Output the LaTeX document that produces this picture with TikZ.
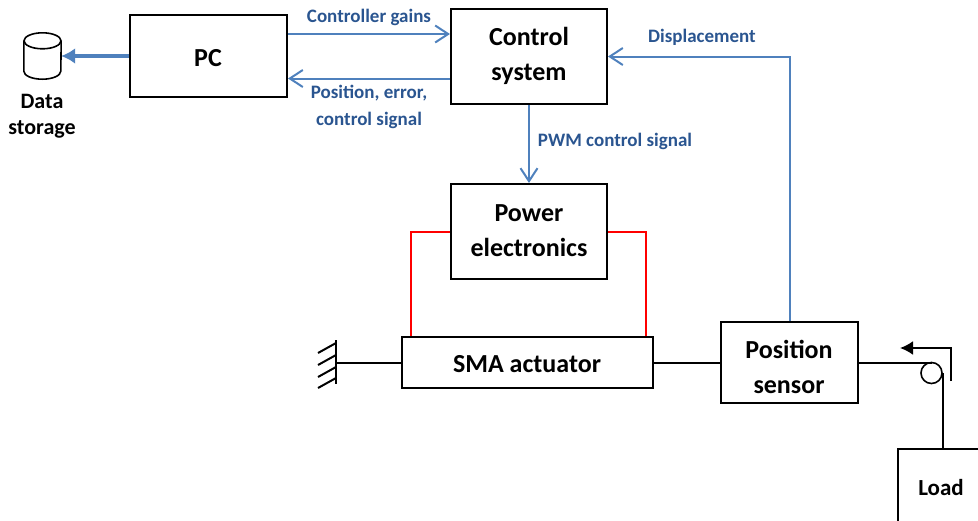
\documentclass[tikz,border=0pt]{standalone}
\usepackage{fontspec}
\setmainfont{Carlito}
\usetikzlibrary{arrows.meta}
\definecolor{sigline}{HTML}{4F81BD}
\definecolor{sigtext}{HTML}{2A5590}
\tikzset{block/.style = {shape=rectangle,draw=black,line width=2pt,inner sep=0pt}}
\tikzset{blocktext/.style = {font=\fontsize{26}{35}\selectfont\bfseries,align=center,inner sep=0pt}}
\tikzset{siglabel/.style = {text=sigtext,font=\fontsize{19}{27}\selectfont\bfseries,align=center,inner sep=0pt}}
\tikzset{sigedge/.style = {-{Straight Barb[length=13pt,width=17pt]},sigline,line width=2pt}}
\tikzset{wire/.style = {red,line width=2pt}}
\tikzset{rod/.style = {black,line width=2pt}}

\begin{document}
\begin{tikzpicture}[x=1pt,y=-1pt]
\useasboundingbox (0,0) rectangle (978,520);

\node[block,minimum width=157pt,minimum height=82pt] (pc) at (208.5,56) {};
\node[block,minimum width=156pt,minimum height=95pt] (control) at (529,56.5) {};
\node[block,minimum width=156pt,minimum height=95pt] (power) at (529,231.5) {};
\node[block,minimum width=251pt,minimum height=51pt] (sma) at (527.5,362.5) {};
\node[block,minimum width=137pt,minimum height=81pt] (sensor) at (789.5,362.5) {};
\node[block,minimum width=90pt,minimum height=80pt] (load) at (943,489) {};
\node[minimum width=37pt,minimum height=46pt,inner sep=0pt] (store) at (42.5,56) {};
\node[shape=circle,draw=black,line width=1.6pt,minimum size=21pt,inner sep=0pt] (pulley) at (931.5,373) {};

\node[blocktext] (pclabel) at (208,58) {PC};
\node[blocktext] (controllabel) at (529,56) {Control\\system};
\node[blocktext] (powerlabel) at (529,230.5) {Power\\electronics};
\node[blocktext] (smalabel) at (527,364) {SMA actuator};
\node[blocktext] (sensorlabel) at (789,367) {Position\\sensor};
\node[blocktext,font=\fontsize{23}{24}\selectfont\bfseries] (loadlabel) at (941,488) {Load};

\node[siglabel,text=black,font=\fontsize{22}{26}\selectfont\bfseries] (storelabel) at (42,116.5) {Data\\storage};
\node[siglabel] (gains) at (369,17) {Controller gains};
\node[siglabel] (position) at (369,106.5) {Position, error,\\control signal};
\node[siglabel] (pwm) at (615,141) {PWM control signal};
\node[siglabel] (disp) at (702,37) {Displacement};

\coordinate (wall) at (336,362.5);
\coordinate (pulleytop) at (932,362.5);
\coordinate (ropetop) at (943,373);
\coordinate (dirstart) at (951,381);
\coordinate (dircorner) at (951,348);
\coordinate (dirend) at (900,348);

\draw[sigedge] ([yshift=22pt]pc.east) -- ([yshift=22pt]pc.east -| control.west);
\draw[sigedge] ([yshift=-22pt]control.west) -- ([yshift=-22pt]control.west -| pc.east);
\draw[sigedge] (control.south) -- (power.north);
\draw[sigedge] (sensor.north) |- (control.east);
\draw[-{Latex[length=14pt,width=16pt]},sigline,line width=4.5pt] (pc.west) -- (store.east);

\draw[wire] ([xshift=9.5pt]sma.north west) |- (power.west);
\draw[wire] ([xshift=-8.5pt]sma.north east) |- (power.east);

\draw[rod] (wall) -- (sma.west);
\draw[rod] (sma.east) -- (sensor.west);
\draw[rod] (sensor.east) -- (pulleytop);
\draw[rod] (ropetop) -- (ropetop |- load.north);
\draw[-{Latex[length=13pt,width=14pt]},rod] (dirstart) -- (dircorner) -- (dirend);

% storage drum
\draw[black,line width=1.6pt] ([yshift=-8pt]store.north) ellipse [x radius=18.5pt,y radius=8pt];
\draw[black,line width=1.6pt] ([yshift=-8pt]store.north west) -- ([yshift=8pt]store.south west)
  arc [start angle=180,end angle=360,x radius=18.5pt,y radius=8pt] -- ([yshift=-8pt]store.north east);

% fixed end
\draw[rod] (336,340) -- (336,384);
\foreach \y in {343,355,367,378}
  \draw[rod] (336,\y) -- (318,\y+10);

\end{tikzpicture}
\end{document}
